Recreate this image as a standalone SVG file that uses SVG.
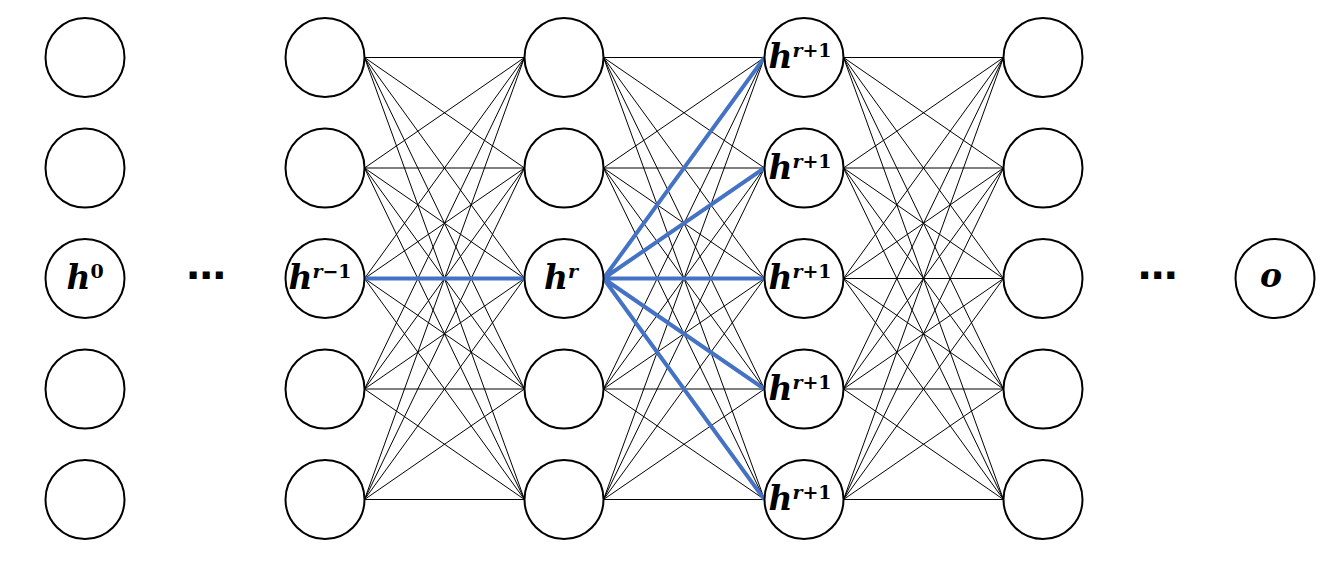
<svg xmlns="http://www.w3.org/2000/svg" width="1337" height="572" viewBox="0 0 1337 572">
<style>
.node{fill:#fff;stroke:#000;stroke-width:2}
.e{fill:none;stroke:#000;stroke-width:1}
.b{fill:none;stroke:#4472C4;stroke-width:4}
.lab{font-family:"DejaVu Serif","Liberation Serif",serif;font-weight:bold;font-style:italic;font-size:33px;fill:#000}
.sup{font-size:19px}
.up{font-style:normal}
.dots{font-family:"DejaVu Sans","Liberation Sans",sans-serif;font-weight:bold;font-size:40px;fill:#000}
</style>
<rect width="1337" height="572" fill="#fff"/>
<g id="connectors">
<path class="e" d="M364.5 57.5L524.5 57.5M364.5 57.5L524.5 168M364.5 57.5L524.5 278.5M364.5 57.5L524.5 389M364.5 57.5L524.5 499.5"/>
<path class="e" d="M364.5 168L524.5 57.5M364.5 168L524.5 168M364.5 168L524.5 278.5M364.5 168L524.5 389M364.5 168L524.5 499.5"/>
<path class="e" d="M364.5 278.5L524.5 57.5M364.5 278.5L524.5 168M364.5 278.5L524.5 278.5M364.5 278.5L524.5 389M364.5 278.5L524.5 499.5"/>
<path class="e" d="M364.5 389L524.5 57.5M364.5 389L524.5 168M364.5 389L524.5 278.5M364.5 389L524.5 389M364.5 389L524.5 499.5"/>
<path class="e" d="M364.5 499.5L524.5 57.5M364.5 499.5L524.5 168M364.5 499.5L524.5 278.5M364.5 499.5L524.5 389M364.5 499.5L524.5 499.5"/>
<path class="e" d="M603.5 57.5L764.5 57.5M603.5 57.5L764.5 168M603.5 57.5L764.5 278.5M603.5 57.5L764.5 389M603.5 57.5L764.5 499.5"/>
<path class="e" d="M603.5 168L764.5 57.5M603.5 168L764.5 168M603.5 168L764.5 278.5M603.5 168L764.5 389M603.5 168L764.5 499.5"/>
<path class="e" d="M603.5 278.5L764.5 57.5M603.5 278.5L764.5 168M603.5 278.5L764.5 278.5M603.5 278.5L764.5 389M603.5 278.5L764.5 499.5"/>
<path class="e" d="M603.5 389L764.5 57.5M603.5 389L764.5 168M603.5 389L764.5 278.5M603.5 389L764.5 389M603.5 389L764.5 499.5"/>
<path class="e" d="M603.5 499.5L764.5 57.5M603.5 499.5L764.5 168M603.5 499.5L764.5 278.5M603.5 499.5L764.5 389M603.5 499.5L764.5 499.5"/>
<path class="e" d="M843.5 57.5L1003.5 57.5M843.5 57.5L1003.5 168M843.5 57.5L1003.5 278.5M843.5 57.5L1003.5 389M843.5 57.5L1003.5 499.5"/>
<path class="e" d="M843.5 168L1003.5 57.5M843.5 168L1003.5 168M843.5 168L1003.5 278.5M843.5 168L1003.5 389M843.5 168L1003.5 499.5"/>
<path class="e" d="M843.5 278.5L1003.5 57.5M843.5 278.5L1003.5 168M843.5 278.5L1003.5 278.5M843.5 278.5L1003.5 389M843.5 278.5L1003.5 499.5"/>
<path class="e" d="M843.5 389L1003.5 57.5M843.5 389L1003.5 168M843.5 389L1003.5 278.5M843.5 389L1003.5 389M843.5 389L1003.5 499.5"/>
<path class="e" d="M843.5 499.5L1003.5 57.5M843.5 499.5L1003.5 168M843.5 499.5L1003.5 278.5M843.5 499.5L1003.5 389M843.5 499.5L1003.5 499.5"/>
<path class="b" d="M364.5 278.5L524.5 278.5"/>
<path class="b" d="M603.5 278.5L764.5 57.5M603.5 278.5L764.5 168M603.5 278.5L764.5 278.5M603.5 278.5L764.5 389M603.5 278.5L764.5 499.5"/>
</g>
<g id="col1">
<g id="n1_1"><circle class="node" cx="85" cy="57.5" r="39.5"/></g>
<g id="n1_2"><circle class="node" cx="85" cy="168" r="39.5"/></g>
<g id="n1_3"><circle class="node" cx="85" cy="278.5" r="39.5"/><text class="lab" x="85" y="289" text-anchor="middle">h<tspan class="sup up" dy="-11">0</tspan></text></g>
<g id="n1_4"><circle class="node" cx="85" cy="389" r="39.5"/></g>
<g id="n1_5"><circle class="node" cx="85" cy="499.5" r="39.5"/></g>
</g>
<g id="dots1"><text class="dots" x="206.5" y="289" text-anchor="middle">⋯</text></g>
<g id="col2">
<g id="n2_1"><circle class="node" cx="325" cy="57.5" r="39.5"/></g>
<g id="n2_2"><circle class="node" cx="325" cy="168" r="39.5"/></g>
<g id="n2_3"><circle class="node" cx="325" cy="278.5" r="39.5"/><text class="lab" x="320" y="289" text-anchor="middle">h<tspan class="sup" dy="-11">r</tspan><tspan class="sup up">−1</tspan></text></g>
<g id="n2_4"><circle class="node" cx="325" cy="389" r="39.5"/></g>
<g id="n2_5"><circle class="node" cx="325" cy="499.5" r="39.5"/></g>
</g>
<g id="col3">
<g id="n3_1"><circle class="node" cx="564" cy="57.5" r="39.5"/></g>
<g id="n3_2"><circle class="node" cx="564" cy="168" r="39.5"/></g>
<g id="n3_3"><circle class="node" cx="564" cy="278.5" r="39.5"/><text class="lab" x="561" y="289" text-anchor="middle">h<tspan class="sup" dy="-11">r</tspan></text></g>
<g id="n3_4"><circle class="node" cx="564" cy="389" r="39.5"/></g>
<g id="n3_5"><circle class="node" cx="564" cy="499.5" r="39.5"/></g>
</g>
<g id="col4">
<g id="n4_1"><circle class="node" cx="804" cy="57.5" r="39.5"/><text class="lab" x="800" y="68" text-anchor="middle">h<tspan class="sup" dy="-11">r</tspan><tspan class="sup up">+1</tspan></text></g>
<g id="n4_2"><circle class="node" cx="804" cy="168" r="39.5"/><text class="lab" x="800" y="178.5" text-anchor="middle">h<tspan class="sup" dy="-11">r</tspan><tspan class="sup up">+1</tspan></text></g>
<g id="n4_3"><circle class="node" cx="804" cy="278.5" r="39.5"/><text class="lab" x="800" y="289" text-anchor="middle">h<tspan class="sup" dy="-11">r</tspan><tspan class="sup up">+1</tspan></text></g>
<g id="n4_4"><circle class="node" cx="804" cy="389" r="39.5"/><text class="lab" x="800" y="399.5" text-anchor="middle">h<tspan class="sup" dy="-11">r</tspan><tspan class="sup up">+1</tspan></text></g>
<g id="n4_5"><circle class="node" cx="804" cy="499.5" r="39.5"/><text class="lab" x="800" y="510" text-anchor="middle">h<tspan class="sup" dy="-11">r</tspan><tspan class="sup up">+1</tspan></text></g>
</g>
<g id="col5">
<g id="n5_1"><circle class="node" cx="1043" cy="57.5" r="39.5"/></g>
<g id="n5_2"><circle class="node" cx="1043" cy="168" r="39.5"/></g>
<g id="n5_3"><circle class="node" cx="1043" cy="278.5" r="39.5"/></g>
<g id="n5_4"><circle class="node" cx="1043" cy="389" r="39.5"/></g>
<g id="n5_5"><circle class="node" cx="1043" cy="499.5" r="39.5"/></g>
</g>
<g id="dots2"><text class="dots" x="1158" y="289" text-anchor="middle">⋯</text></g>
<g id="out"><circle class="node" cx="1275" cy="278.5" r="39.5"/><text class="lab" x="1271" y="287" text-anchor="middle">o</text></g>
</svg>
